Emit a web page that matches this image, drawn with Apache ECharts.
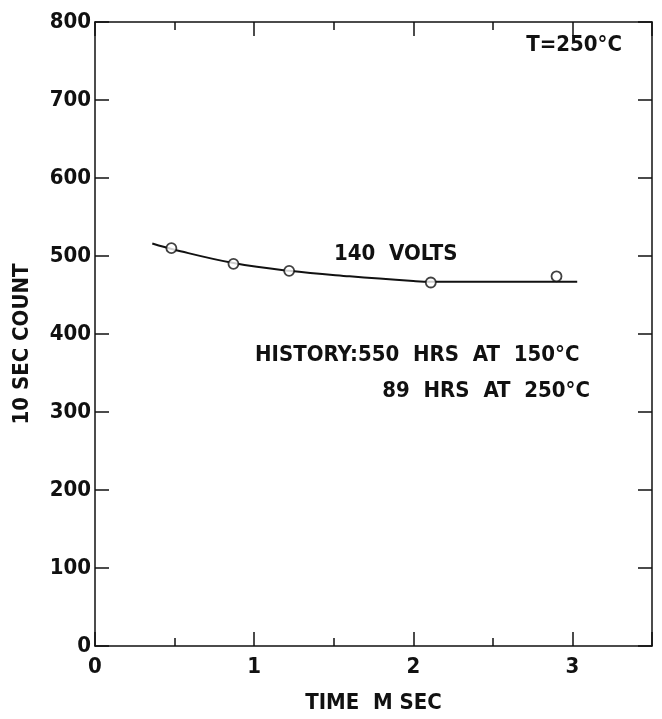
<!DOCTYPE html>
<html>
<head>
<meta charset="utf-8">
<script src="https://cdn.jsdelivr.net/npm/echarts@6/dist/echarts.min.js"></script>
<style>
  html, body { margin: 0; padding: 0; background: #fff; }
  #chart { width: 662px; height: 719px; }
</style>
</head>
<body>
<div id="chart"></div>
<script>
// measured points, 140 volts
var timeMs = [0.48, 0.87, 1.22, 2.11, 2.90];
var counts = [510, 490, 481, 466, 474];

// hand-drawn fit curve through the points
var curveTime = [0.36, 0.5, 0.87, 1.22, 1.6, 2.0, 2.11, 2.5, 3.03];
var curveCount = [516, 508, 491, 481, 474, 468, 467, 467, 467];

var yTicks = [0, 100, 200, 300, 400, 500, 600, 700, 800];
var xTicks = [0, 1, 2, 3];

var FONT = '"Liberation Sans Narrow", "DejaVu Sans Condensed", sans-serif';
var INK = '#111';

var chart = echarts.init(document.getElementById('chart'));

function pairs(xs, ys) {
  return xs.map(function (x, i) { return [x, ys[i]]; });
}

var option = {
  backgroundColor: '#fff',
  animation: false,
  grid: { left: 95, right: 10, top: 22, bottom: 68 },
  xAxis: [{
    type: 'value',
    min: 0, max: 3.5, interval: 1,
    name: 'TIME  M SEC',
    nameLocation: 'middle',
    nameGap: 46,
    nameTextStyle: { fontFamily: FONT, fontWeight: 'bold', fontSize: 22, color: INK },
    axisLine: { onZero: false, lineStyle: { color: INK, width: 1.5 } },
    axisTick: { inside: true, length: 14, lineStyle: { color: INK, width: 1.5 } },
    minorTick: { show: true, splitNumber: 2, length: 8, lineStyle: { color: INK, width: 1.5 } },
    axisLabel: {
      fontFamily: FONT, fontWeight: 'bold', fontSize: 22, color: INK, margin: 10,
      formatter: function (v) { return xTicks.indexOf(v) >= 0 ? String(v) : ''; }
    },
    splitLine: { show: false }
  }, {
    type: 'value',
    position: 'top',
    min: 0, max: 3.5, interval: 1,
    axisLine: { onZero: false, lineStyle: { color: INK, width: 1.5 } },
    axisTick: { inside: true, length: 14, lineStyle: { color: INK, width: 1.5 } },
    minorTick: { show: true, splitNumber: 2, length: 8, lineStyle: { color: INK, width: 1.5 } },
    axisLabel: { show: false },
    splitLine: { show: false }
  }],
  yAxis: [{
    type: 'value',
    min: 0, max: 800, interval: 100,
    name: '10 SEC COUNT',
    nameLocation: 'middle',
    nameGap: 62,
    nameTextStyle: { fontFamily: FONT, fontWeight: 'bold', fontSize: 22, color: INK, padding: [0, 20, 0, 0] },
    axisLine: { onZero: false, lineStyle: { color: INK, width: 1.5 } },
    axisTick: { inside: true, length: 14, lineStyle: { color: INK, width: 1.5 } },
    axisLabel: {
      fontFamily: FONT, fontWeight: 'bold', fontSize: 22, color: INK, margin: 4,
      formatter: function (v) { return yTicks.indexOf(v) >= 0 ? String(v) : ''; }
    },
    splitLine: { show: false }
  }, {
    type: 'value',
    position: 'right',
    min: 0, max: 800, interval: 100,
    axisLine: { onZero: false, lineStyle: { color: INK, width: 1.5 } },
    axisTick: { inside: true, length: 14, lineStyle: { color: INK, width: 1.5 } },
    axisLabel: { show: false },
    splitLine: { show: false }
  }],
  series: [{
    type: 'line',
    data: pairs(curveTime, curveCount),
    smooth: 0.4,
    showSymbol: false,
    lineStyle: { color: INK, width: 2 },
    z: 2
  }, {
    type: 'scatter',
    data: pairs(timeMs, counts),
    symbol: 'circle',
    symbolSize: 10,
    itemStyle: { color: '#fff', borderColor: INK, borderWidth: 1.8 },
    z: 3
  }],
  graphic: [{
    type: 'text', right: 40, top: 34,
    style: { text: 'T=250°C', fontFamily: FONT, fontWeight: 'bold', fontSize: 22, fill: INK }
  }, {
    type: 'text', left: 334, top: 243,
    style: { text: '140  VOLTS', fontFamily: FONT, fontWeight: 'bold', fontSize: 22, fill: INK }
  }, {
    type: 'text', left: 255, top: 344,
    style: { text: 'HISTORY:550  HRS  AT  150°C', fontFamily: FONT, fontWeight: 'bold', fontSize: 22, fill: INK }
  }, {
    type: 'text', right: 72, top: 380,
    style: { text: '89  HRS  AT  250°C', fontFamily: FONT, fontWeight: 'bold', fontSize: 22, fill: INK }
  }]
};

chart.setOption(option);
</script>
</body>
</html>
